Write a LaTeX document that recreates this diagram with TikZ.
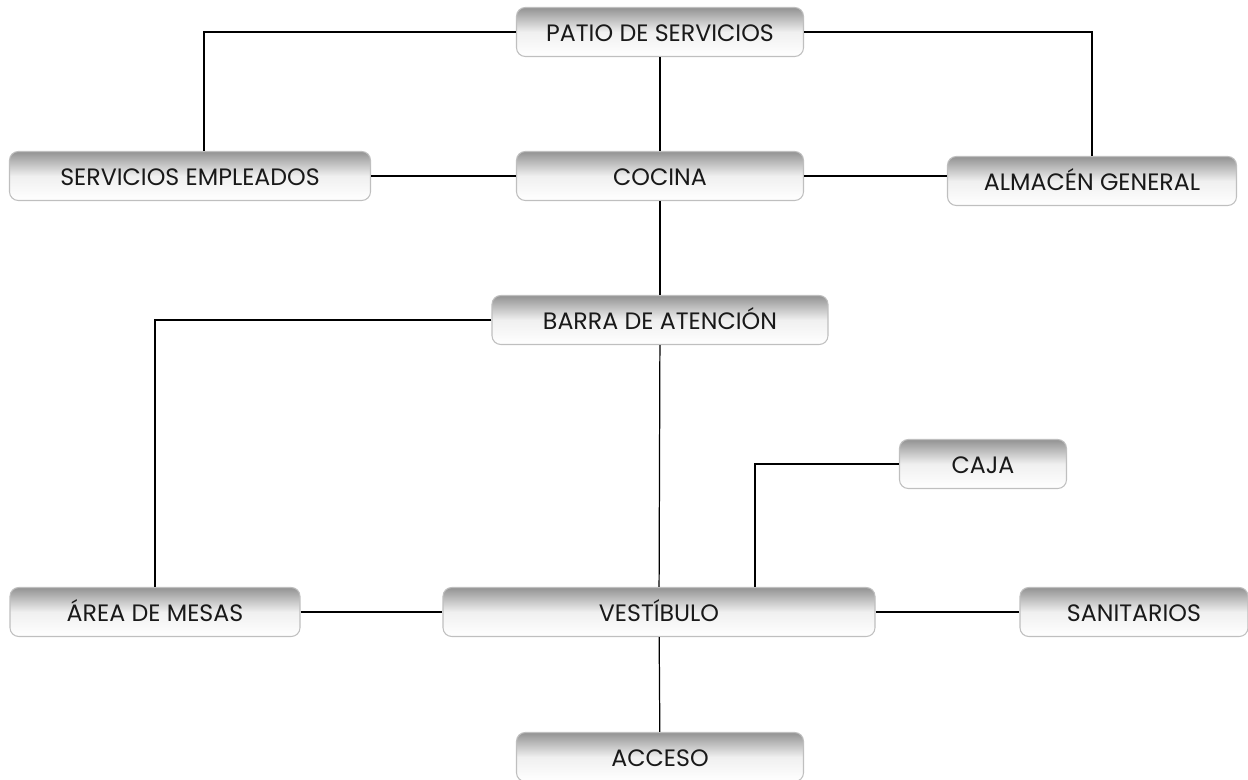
\documentclass[tikz,border=0pt]{standalone}
\usepackage{fontspec}
\setmainfont{Poppins}
\usetikzlibrary{positioning}

\begin{document}
\begin{tikzpicture}[x=0.02cm, y=-0.02cm, font=\fontsize{13.5}{15}\selectfont,
  box/.style={draw=gray!50, line width=0.6pt, rounded corners=5pt,
    top color=gray!85, bottom color=white, middle color=gray!12,
    minimum height=0.98cm, inner sep=0pt, text=black!90,
    text height=1.9ex, text depth=0ex},
  link/.style={draw=black, line width=0.7pt}]
\useasboundingbox (0,0) rectangle (1248,780);
% espacios
\foreach \n/\x/\y/\w/\lbl in {
    patio/660/32/287/{PATIO DE SERVICIOS},
    servemp/190/176/361/{SERVICIOS EMPLEADOS},
    cocina/660/176/287/{COCINA},
    almacen/1092/181/289/{ALMACÉN GENERAL},
    barra/660/320/336/{BARRA DE ATENCIÓN},
    caja/983/464/167/{CAJA},
    area/155/612/290/{ÁREA DE MESAS},
    vest/659/612/432/{VESTÍBULO},
    sanit/1134/612/228/{SANITARIOS},
    acceso/660/757/287/{ACCESO}}{
  \node[box, minimum width={\w*0.02cm}] (\n) at (\x,\y) {\lbl};
}
% relaciones
\draw[link] (patio.west) -| ([xshift=0.28cm]servemp.north);
\draw[link] (patio.east) -| (almacen.north);
\draw[link] (patio) -- (cocina);
\draw[link] (servemp) -- (cocina);
\draw[link] (cocina.east) -- (cocina.east -| almacen.west);
\draw[link] (cocina) -- (barra);
\draw[link] (barra.west) -| (area.north);
\draw[link] (barra) -- (vest);
\draw[link] (caja.west) -| ([xshift=1.92cm]vest.north);
\draw[link] (area) -- (vest);
\draw[link] (vest) -- (sanit);
\draw[link] (vest) -- (acceso);
\end{tikzpicture}
\end{document}
